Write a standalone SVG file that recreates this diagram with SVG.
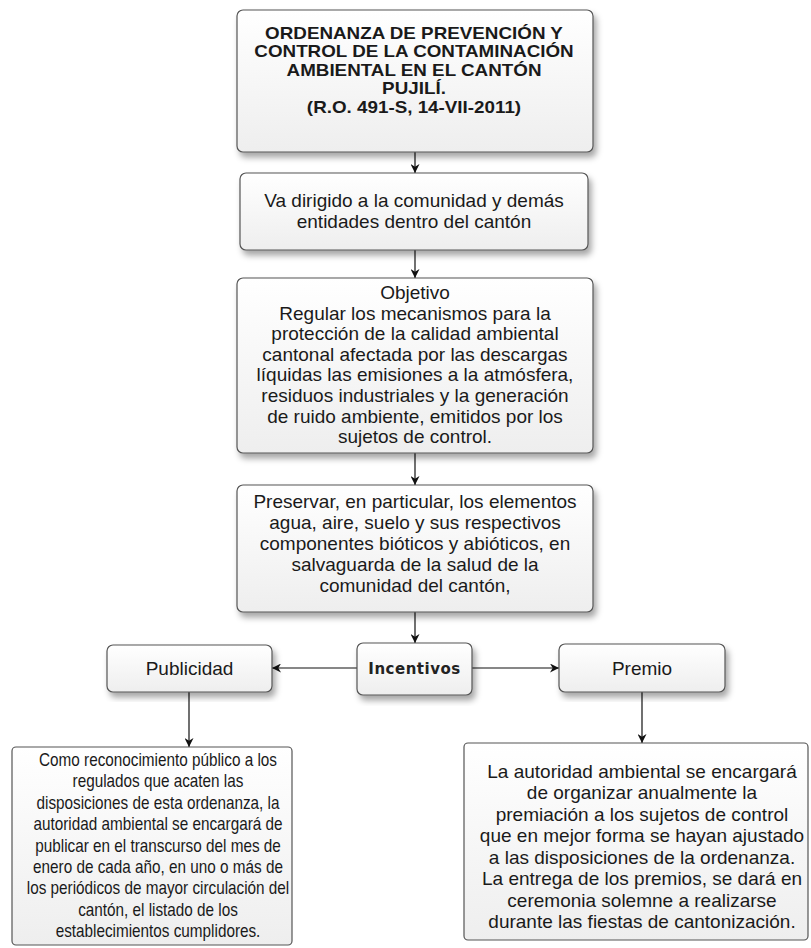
<svg xmlns="http://www.w3.org/2000/svg" width="811" height="948" viewBox="0 0 811 948">
<defs>
<linearGradient id="g" x1="0" y1="0" x2="0" y2="1">
<stop offset="0" stop-color="#ffffff"/>
<stop offset="1" stop-color="#eeeeee"/>
</linearGradient>
<filter id="sh" x="-10%" y="-10%" width="125%" height="130%">
<feDropShadow dx="3" dy="5" stdDeviation="3" flood-color="#000" flood-opacity="0.35"/>
</filter>
<marker id="ah" viewBox="0 0 10 10" refX="10" refY="5" markerWidth="9" markerHeight="9" markerUnits="userSpaceOnUse" orient="auto">
<path d="M0,0 L10,5 L0,10 L3,5 z" fill="#111"/>
</marker>
<style>
.box{fill:url(#g);stroke:#555;stroke-width:1.2;filter:url(#sh)}
.flat{fill:url(#g);stroke:#555;stroke-width:1.2}
.t{font-family:"Liberation Sans",Arial,sans-serif;font-size:19px;fill:#1a1a1a;text-anchor:middle}
.s{font-size:18px}
.b{font-weight:bold;font-size:16.5px}
.inc{font-family:"DejaVu Sans",Verdana,sans-serif;font-size:15px;font-weight:bold;fill:#222;text-anchor:middle;letter-spacing:0.5px}
.c{stroke:#111;stroke-width:1.2;fill:none;marker-end:url(#ah)}
</style>
</defs>
<g id="connectors">
<line class="c" x1="415" y1="152" x2="415" y2="173"/>
<line class="c" x1="415" y1="250" x2="415" y2="278"/>
<line class="c" x1="415" y1="453" x2="415" y2="485"/>
<line class="c" x1="415" y1="612" x2="415" y2="643"/>
<line class="c" x1="357" y1="668" x2="272" y2="668"/>
<line class="c" x1="472" y1="668" x2="559" y2="668"/>
<line class="c" x1="189" y1="692" x2="189" y2="747"/>
<line class="c" x1="642" y1="692" x2="642" y2="743"/>
</g>
<g id="ordenanza">
<rect class="box" x="237" y="10" width="356" height="142" rx="6"/>
<text class="t b" transform="translate(414,0) scale(1.14,1)"><tspan x="0" y="39">ORDENANZA DE PREVENCIÓN Y</tspan><tspan x="0" y="57.5">CONTROL DE LA CONTAMINACIÓN</tspan><tspan x="0" y="76">AMBIENTAL EN EL CANTÓN</tspan><tspan x="0" y="94.5">PUJILÍ.</tspan><tspan x="0" y="113">(R.O. 491-S, 14-VII-2011)</tspan></text>
</g>
<g id="dirigido">
<rect class="box" x="240" y="173" width="348" height="77" rx="6"/>
<text class="t"><tspan x="414" y="206.5">Va dirigido a la comunidad y demás</tspan><tspan x="414" y="227.5">entidades dentro del cantón</tspan></text>
</g>
<g id="objetivo">
<rect class="box" x="237" y="278" width="356" height="175" rx="6"/>
<text class="t"><tspan x="415" y="299">Objetivo</tspan><tspan x="415" y="319.6">Regular los mecanismos para la</tspan><tspan x="415" y="340.2">protección de la calidad ambiental</tspan><tspan x="415" y="360.8">cantonal afectada por las descargas</tspan><tspan x="415" y="381.4">líquidas las emisiones a la atmósfera,</tspan><tspan x="415" y="402">residuos industriales y la generación</tspan><tspan x="415" y="422.6">de ruido ambiente, emitidos por los</tspan><tspan x="415" y="443.2">sujetos de control.</tspan></text>
</g>
<g id="preservar">
<rect class="box" x="237" y="485" width="356" height="127" rx="6"/>
<text class="t"><tspan x="415" y="508">Preservar, en particular, los elementos</tspan><tspan x="415" y="529">agua, aire, suelo y sus respectivos</tspan><tspan x="415" y="550">componentes bióticos y abióticos, en</tspan><tspan x="415" y="571">salvaguarda de la salud de la</tspan><tspan x="415" y="592">comunidad del cantón,</tspan></text>
</g>
<g id="incentivos">
<rect class="box" x="357" y="643" width="115" height="52" rx="6"/>
<text class="inc" x="414.5" y="674">Incentivos</text>
</g>
<g id="publicidad">
<rect class="box" x="107" y="645" width="165" height="47" rx="6"/>
<text class="t" x="189.5" y="675">Publicidad</text>
</g>
<g id="premio">
<rect class="box" x="559" y="644" width="166" height="48" rx="6"/>
<text class="t" x="642" y="675">Premio</text>
</g>
<g id="publicidad-texto">
<rect class="flat" x="12" y="747" width="280" height="198" rx="4"/>
<text class="t s" transform="translate(158,0) scale(0.85,1)"><tspan x="0" y="766">Como reconocimiento público a los</tspan><tspan x="0" y="787.4">regulados que acaten las</tspan><tspan x="0" y="808.8">disposiciones de esta ordenanza, la</tspan><tspan x="0" y="830.2">autoridad ambiental se encargará de</tspan><tspan x="0" y="851.6">publicar en el transcurso del mes de</tspan><tspan x="0" y="873">enero de cada año, en uno o más de</tspan><tspan x="0" y="894.4">los periódicos de mayor circulación del</tspan><tspan x="0" y="915.8">cantón, el listado de los</tspan><tspan x="0" y="937.2">establecimientos cumplidores.</tspan></text>
</g>
<g id="premio-texto">
<rect class="flat" x="464" y="743" width="344" height="197" rx="4"/>
<text class="t"><tspan x="642" y="777.5">La autoridad ambiental se encargará</tspan><tspan x="642" y="799">de organizar anualmente la</tspan><tspan x="642" y="820.5">premiación a los sujetos de control</tspan><tspan x="642" y="842">que en mejor forma se hayan ajustado</tspan><tspan x="642" y="863.5">a las disposiciones de la ordenanza.</tspan><tspan x="642" y="885">La entrega de los premios, se dará en</tspan><tspan x="642" y="906.5">ceremonia solemne a realizarse</tspan><tspan x="642" y="928">durante las fiestas de cantonización.</tspan></text>
</g>
</svg>
